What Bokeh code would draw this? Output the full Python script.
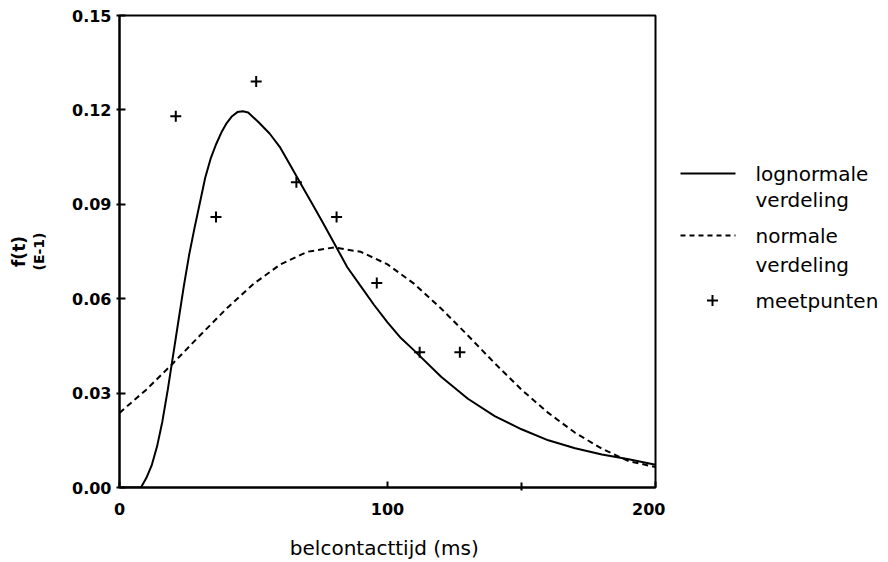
from bokeh.plotting import figure
from bokeh.layouts import row
from bokeh.models import Range1d, FixedTicker, LinearAxis
from bokeh.core.properties import value
from bokeh.embed import file_html
from bokeh.resources import INLINE

# ---- data ----
t_meet = [21, 36, 51, 66, 81, 96, 112, 127]
f_meet = [0.118, 0.086, 0.129, 0.097, 0.086, 0.065, 0.043, 0.043]

t_logn = [0, 5, 8, 10, 12, 14, 16, 18, 20, 22, 24, 26, 28, 30, 32, 34, 36, 38, 40,
          42, 44, 46, 48, 52, 56, 60, 64, 68, 72, 76, 80, 85, 90, 95, 100, 105, 110,
          120, 130, 140, 150, 160, 170, 180, 190, 200]
f_logn = [0.0, 0.0, 0.0, 0.003, 0.007, 0.013, 0.021, 0.031, 0.042, 0.053, 0.064, 0.074,
          0.0825, 0.0905, 0.0985, 0.1045, 0.109, 0.1128, 0.1158, 0.118, 0.1193, 0.1196,
          0.1192, 0.116, 0.1125, 0.108, 0.102, 0.096, 0.090, 0.084, 0.0778, 0.070, 0.064,
          0.058, 0.0525, 0.0475, 0.0435, 0.0352, 0.0282, 0.0227, 0.0185, 0.015, 0.0125,
          0.0105, 0.009, 0.0072]

t_norm = [0, 10, 20, 30, 40, 50, 60, 70, 80, 90, 100, 110, 120, 130, 140, 150, 160,
          170, 180, 190, 200]
f_norm = [0.0237, 0.0311, 0.0395, 0.0483, 0.0569, 0.0647, 0.0709, 0.0749, 0.0763,
          0.0749, 0.0709, 0.0647, 0.0569, 0.0483, 0.0395, 0.0311, 0.0237, 0.0174,
          0.0123, 0.0084, 0.0065]

x_ticks = [0, 100, 200]
x_tick_labels = ["0", "100", "200"]
y_ticks = [0.0, 0.03, 0.06, 0.09, 0.12, 0.15]
y_tick_labels = ["0.00", "0.03", "0.06", "0.09", "0.12", "0.15"]

legend_labels = [["lognormale", "verdeling"], ["normale", "verdeling"], ["meetpunten"]]
x_title = "belcontacttijd  (ms)"
y_title = "f(t)"
y_subtitle = "(E-1)"

FONT = "DejaVu Sans"
TOP, BOTTOM = 15, 487   # frame edges in window pixels (shared by both panels)

# ---- main plot ----
p = figure(width=665, height=562, output_backend="svg", toolbar_location=None,
           x_range=Range1d(0, 200), y_range=Range1d(0, 0.15),
           min_border_left=119, min_border_right=10, min_border_top=TOP,
           min_border_bottom=562 - BOTTOM)
p.background_fill_color = "white"
p.border_fill_color = "white"
p.outline_line_color = "black"
p.outline_line_width = 2
p.xgrid.visible = False
p.ygrid.visible = False

p.xaxis.ticker = FixedTicker(ticks=x_ticks, minor_ticks=[150])
p.xaxis.major_label_overrides = {t: l for t, l in zip(x_ticks, x_tick_labels)}
p.yaxis.ticker = FixedTicker(ticks=y_ticks, minor_ticks=[])
p.yaxis.major_label_overrides = {t: l for t, l in zip(y_ticks, y_tick_labels)}

for ax in (p.xaxis[0], p.yaxis[0]):
    ax.axis_line_width = 2
    ax.axis_line_color = "black"
    ax.major_tick_line_width = 2
    ax.major_tick_line_color = "black"
    ax.minor_tick_line_width = 2
    ax.minor_tick_line_color = "black"
    ax.major_label_text_font = FONT
    ax.major_label_text_font_style = "bold"
    ax.major_label_text_font_size = "16px"
    ax.major_label_text_color = "black"

p.xaxis.major_tick_in = 6
p.xaxis.major_tick_out = 0
p.xaxis.minor_tick_in = 5
p.xaxis.minor_tick_out = 3
p.xaxis.major_label_standoff = 12
p.xaxis.axis_label = x_title
p.xaxis.axis_label_text_font = FONT
p.xaxis.axis_label_text_font_style = "normal"
p.xaxis.axis_label_text_font_size = "20px"
p.xaxis.axis_label_text_color = "black"
p.xaxis.axis_label_standoff = 18

p.yaxis.major_tick_in = 6
p.yaxis.major_tick_out = 3
p.yaxis.minor_tick_in = 0
p.yaxis.minor_tick_out = 0
p.yaxis.major_label_standoff = 5
# inner part of the y title: "(E-1)"
p.yaxis.axis_label = y_subtitle
p.yaxis.axis_label_text_font = FONT
p.yaxis.axis_label_text_font_style = "bold"
p.yaxis.axis_label_text_font_size = "14px"
p.yaxis.axis_label_text_color = "black"
p.yaxis.axis_label_standoff = 22

# outer part of the y title: "f(t)" on an extra, bare axis
ax2 = LinearAxis(ticker=FixedTicker(ticks=[], minor_ticks=[]), axis_label=y_title,
                 axis_line_color=None, major_tick_line_color=None,
                 minor_tick_line_color=None, major_label_text_font_size="0px",
                 axis_label_text_font=FONT, axis_label_text_font_style="bold",
                 axis_label_text_font_size="17px", axis_label_text_color="black",
                 axis_label_standoff=0)
p.add_layout(ax2, "left")

p.line(t_logn, f_logn, line_color="black", line_width=2)
p.line(t_norm, f_norm, line_color="black", line_width=2, line_dash="6 4")
p.scatter(t_meet, f_meet, marker="cross", size=11, line_color="black", line_width=2)

# ---- legend panel (window pixel coordinates) ----
lg = figure(width=223, height=562, output_backend="svg", toolbar_location=None,
            x_range=Range1d(665, 888), y_range=Range1d(562 - BOTTOM, 562 - TOP),
            min_border_left=0, min_border_right=0,
            min_border_top=TOP, min_border_bottom=562 - BOTTOM)
lg.axis.visible = False
lg.xgrid.visible = False
lg.ygrid.visible = False
lg.outline_line_color = None
lg.background_fill_color = "white"
lg.border_fill_color = "white"


def up(yy):
    # window pixel row -> legend panel y value (counted upward)
    return 562 - yy


lg.line([680, 735], [up(173), up(173)], line_color="black", line_width=2)
lg.line([680, 735], [up(235), up(235)], line_color="black", line_width=2, line_dash="5 4")
lg.scatter([712], [up(300)], marker="cross", size=11, line_color="black", line_width=2)

rows_y = [[173, 199], [235, 264], [300]]
for texts, ys in zip(legend_labels, rows_y):
    for t, yy in zip(texts, ys):
        lg.text(x=[755], y=[up(yy)], text=[t], text_font=value(FONT),
                text_font_size="20px", text_baseline="middle", text_align="left",
                text_color="black")

layout = row(p, lg)
open("out.html", "w").write(file_html(layout, INLINE))
